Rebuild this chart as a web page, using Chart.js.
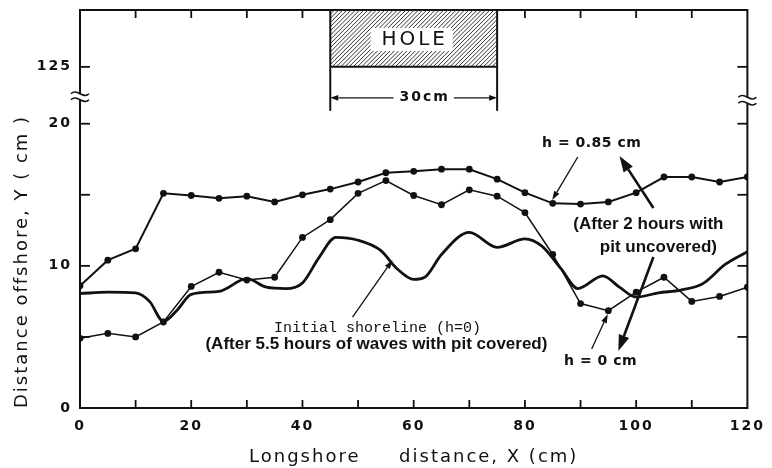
<!DOCTYPE html>
<html>
<head>
<meta charset="utf-8">
<script src="https://cdn.jsdelivr.net/npm/chart.js@4.4.1/dist/chart.umd.min.js"></script>
<style>
  html, body { margin: 0; padding: 0; background: #fff; }
</style>
</head>
<body>
<canvas id="perfil" width="772" height="468"></canvas>
<script>
// posiciones a lo largo de la costa (cm)
const posX = [0, 5, 10, 15, 20, 25, 30, 35, 40, 45, 50, 55, 60, 65, 70, 75, 80, 85, 90, 95, 100, 105, 110, 115, 120];
// h = 0.85 cm, 2 horas con el pozo descubierto
const lineaH085 = [8.6, 10.4, 11.2, 15.1, 14.95, 14.75, 14.9, 14.5, 15.0, 15.4, 15.9, 16.55, 16.65, 16.8, 16.8, 16.1, 15.15, 14.4, 14.35, 14.5, 15.15, 16.25, 16.25, 15.9, 16.25];
// h = 0 cm, mismas condiciones
const lineaH0 = [4.9, 5.25, 5.0, 6.05, 8.55, 9.55, 9.0, 9.2, 12.0, 13.25, 15.1, 16.0, 14.95, 14.3, 15.35, 14.9, 13.75, 10.8, 7.35, 6.85, 8.15, 9.2, 7.5, 7.85, 8.5];
// linea inicial (5.5 h de olas con el pozo cubierto), trazo continuo
const inicialX = [0, 5, 10, 12.5, 15, 17.5, 20, 25, 30, 33.5, 37, 40, 43, 46, 50, 54, 57, 60, 62, 65, 70, 75, 80, 83, 86.5, 89.5, 94, 97, 100, 104, 108, 112, 116, 120];
const inicialY = [8.05, 8.15, 8.1, 7.5, 6.1, 6.9, 8.0, 8.2, 9.1, 8.5, 8.4, 8.8, 10.6, 12.0, 11.8, 11.1, 9.8, 9.05, 9.2, 10.8, 12.35, 11.3, 11.9, 11.4, 9.8, 8.4, 9.3, 8.5, 7.8, 8.1, 8.3, 8.75, 10.1, 11.0];

const etiquetasX = [0, 20, 40, 60, 80, 100, 120];
const etiquetasY = [0, 10, 20, 125];
const marcasY = [5, 15];
const pozoDesde = 45, pozoHasta = 75;

// eje Y cortado: lo que pasa de 21.7 se corre 101 unidades (125 queda donde iria 24)
const corteY = 21.7, saltoY = 101;
const aEje = v => v > corteY ? v - saltoY : v;
const deEje = v => v > corteY ? v + saltoY : v;

const NEGRO = '#111';

function flecha(ctx, x0, y0, x1, y1, ancho, largo, medio) {
    const ang = Math.atan2(y1 - y0, x1 - x0);
    const bx = x1 - largo * Math.cos(ang), by = y1 - largo * Math.sin(ang);
    ctx.lineWidth = ancho;
    ctx.beginPath(); ctx.moveTo(x0, y0); ctx.lineTo(bx, by); ctx.stroke();
    ctx.beginPath();
    ctx.moveTo(x1, y1);
    ctx.lineTo(bx + medio * Math.sin(ang), by - medio * Math.cos(ang));
    ctx.lineTo(bx - medio * Math.sin(ang), by + medio * Math.cos(ang));
    ctx.closePath(); ctx.fill();
}

const textos = [
    { t: 'h = 0.85 cm', x: 92.0, y: 18.64, f: 'bold 14px "DejaVu Sans"', ls: '0.5px' },
    { t: '(After 2 hours with', x: 102.2, y: 12.94, f: 'bold 17px "Liberation Sans"', ls: '0px' },
    { t: 'pit uncovered)', x: 104.0, y: 11.33, f: 'bold 17px "Liberation Sans"', ls: '0px' },
    { t: 'h = 0 cm', x: 93.6, y: 3.31, f: 'bold 14px "DejaVu Sans"', ls: '0.5px' },
    { t: 'Initial shoreline (h=0)', x: 53.5, y: 5.63, f: '15px "Liberation Mono"', ls: '0px' },
    { t: '(After 5.5 hours of waves with pit covered)', x: 53.3, y: 4.5, f: 'bold 17px "Liberation Sans"', ls: '0px' }
];
// [x0, y0, x1, y1, gruesa]
const flechas = [
    [89.5, 17.66, 84.9, 14.63, false],
    [92.0, 4.15, 94.9, 6.61, false],
    [49.0, 6.40, 56.2, 10.41, false],
    [103.1, 14.07, 97.0, 17.73, true],
    [103.1, 10.62, 96.8, 4.01, true]
];

const decorado = {
    id: 'decorado',
    beforeDraw(chart) { chart.ctx.letterSpacing = '2px'; },
    afterDraw(chart) {
        const { ctx, chartArea: a, scales: { x, y } } = chart;
        ctx.save();
        ctx.strokeStyle = NEGRO; ctx.fillStyle = NEGRO;
        ctx.lineCap = 'butt';

        // marco
        ctx.lineWidth = 2;
        ctx.strokeRect(a.left, a.top, a.right - a.left, a.bottom - a.top);

        // marcas hacia adentro
        const raya = (x0, y0, x1, y1) => { ctx.beginPath(); ctx.moveTo(x0, y0); ctx.lineTo(x1, y1); ctx.stroke(); };
        ctx.lineWidth = 1.8;
        x.ticks.forEach(t => {
            if (t.value <= x.min || t.value >= x.max) return;
            const px = x.getPixelForValue(t.value);
            raya(px, a.bottom, px, a.bottom - 8);
            if (t.value < pozoDesde || t.value > pozoHasta) raya(px, a.top, px, a.top + 8);
        });
        y.ticks.forEach(t => {
            if (t.value <= y.min) return;
            const py = y.getPixelForValue(t.value);
            raya(a.left, py, a.left + 10, py);
            raya(a.right, py, a.right - 10, py);
        });

        // corte del eje
        const corte = (px, py) => {
            ctx.fillStyle = '#fff';
            ctx.fillRect(px - 3, py - 3, 6, 6);
            ctx.lineWidth = 1.6;
            [-3, 3].forEach(d => {
                ctx.beginPath();
                ctx.moveTo(px - 9, py + d);
                ctx.bezierCurveTo(px - 3, py + d - 6, px + 3, py + d + 6, px + 9, py + d);
                ctx.stroke();
            });
            ctx.fillStyle = NEGRO;
        };
        corte(a.left, y.getPixelForValue(21.9));
        corte(a.right, y.getPixelForValue(21.65));

        // pozo rayado
        const hx0 = x.getPixelForValue(pozoDesde), hx1 = x.getPixelForValue(pozoHasta);
        const hy1 = y.getPixelForValue(aEje(125));
        ctx.save();
        ctx.beginPath(); ctx.rect(hx0, a.top, hx1 - hx0, hy1 - a.top); ctx.clip();
        ctx.strokeStyle = '#333'; ctx.lineWidth = 1;
        const alto = hy1 - a.top;
        for (let k = hx0 - alto; k < hx1 + 5; k += 4.2) {
            ctx.beginPath(); ctx.moveTo(k, hy1); ctx.lineTo(k + alto, a.top); ctx.stroke();
        }
        ctx.restore();
        const cx = (hx0 + hx1) / 2;
        ctx.fillStyle = '#fff';
        ctx.fillRect(cx - 43, a.top + 18, 82, 23);
        ctx.fillStyle = NEGRO;
        ctx.lineWidth = 2;
        raya(hx0, a.top, hx0, hy1 + 44);
        raya(hx1, a.top, hx1, hy1 + 44);
        raya(hx0, hy1, hx1, hy1);
        ctx.letterSpacing = '3px';
        ctx.font = '20px "DejaVu Sans"';
        ctx.textAlign = 'center'; ctx.textBaseline = 'middle';
        ctx.fillText('HOLE', cx + 1, a.top + 30);

        // cota del ancho del pozo
        const dy = hy1 + 31;
        ctx.letterSpacing = '2px';
        ctx.font = 'bold 14px "DejaVu Sans"';
        const cota = (pozoHasta - pozoDesde) + 'cm';
        const tc = cx + 10;
        const wt = ctx.measureText(cota).width;
        ctx.fillText(cota, tc + 1, dy);
        flecha(ctx, tc - wt / 2 - 5, dy, hx0, dy, 1.3, 8, 2.8);
        flecha(ctx, tc + wt / 2 + 5, dy, hx1, dy, 1.3, 8, 2.8);

        // rotulos y flechas
        textos.forEach(n => {
            ctx.font = n.f;
            ctx.letterSpacing = n.ls;
            ctx.fillText(n.t, x.getPixelForValue(n.x), y.getPixelForValue(n.y));
        });
        flechas.forEach(([x0, y0, x1, y1, gruesa]) => {
            flecha(ctx, x.getPixelForValue(x0), y.getPixelForValue(y0), x.getPixelForValue(x1), y.getPixelForValue(y1),
                gruesa ? 2.6 : 1.3, gruesa ? 16 : 9, gruesa ? 5.5 : 3);
        });
        ctx.restore();
    }
};

const fuenteTicks = { family: 'DejaVu Sans', weight: 'bold', size: 14 };
const fuenteTitulo = { family: 'DejaVu Sans', size: 18 };

new Chart(document.getElementById('perfil'), {
    type: 'line',
    data: {
        datasets: [
            {
                label: 'h = 0.85 cm',
                data: posX.map((v, i) => ({ x: v, y: lineaH085[i] })),
                borderColor: NEGRO, backgroundColor: NEGRO,
                borderWidth: 2, pointRadius: 3.4, pointBorderWidth: 0, tension: 0
            },
            {
                label: 'h = 0 cm',
                data: posX.map((v, i) => ({ x: v, y: lineaH0[i] })),
                borderColor: NEGRO, backgroundColor: NEGRO,
                borderWidth: 1.5, pointRadius: 3.4, pointBorderWidth: 0, tension: 0
            },
            {
                label: 'Initial shoreline (h=0)',
                data: inicialX.map((v, i) => ({ x: v, y: inicialY[i] })),
                borderColor: NEGRO, borderWidth: 2.8, pointRadius: 0,
                cubicInterpolationMode: 'monotone'
            }
        ]
    },
    options: {
        responsive: false,
        animation: false,
        layout: { padding: { top: 10, right: 19, left: 0, bottom: 0 } },
        plugins: { legend: { display: false }, tooltip: { enabled: false } },
        scales: {
            x: {
                type: 'linear', min: 0, max: 120,
                afterFit: s => { s.height = 60; },
                ticks: {
                    stepSize: 10, autoSkip: false, maxRotation: 0, padding: 10,
                    color: NEGRO, font: fuenteTicks,
                    callback: v => etiquetasX.includes(v) ? String(v) : ''
                },
                grid: { display: false, drawTicks: false }, border: { display: false },
                title: {
                    display: true, text: 'Longshore     distance, X (cm)', color: NEGRO,
                    font: fuenteTitulo, padding: { top: 2, bottom: 0 }
                }
            },
            y: {
                type: 'linear', min: 0, max: 28,
                afterFit: s => { s.width = 80; s.paddingTop = 0; s.paddingBottom = 0; },
                afterBuildTicks: s => {
                    s.ticks = [...marcasY, ...etiquetasY].map(aEje).sort((p, q) => p - q).map(v => ({ value: v }));
                },
                ticks: {
                    autoSkip: false, padding: 8, color: NEGRO, font: fuenteTicks,
                    callback: v => etiquetasY.includes(deEje(v)) ? String(deEje(v)) : ''
                },
                grid: { display: false, drawTicks: false }, border: { display: false },
                title: {
                    display: true, text: 'Distance offshore, Y ( cm )', color: NEGRO, align: 'start',
                    font: fuenteTitulo, padding: { top: 12, bottom: 0 }
                }
            }
        }
    },
    plugins: [decorado]
});
</script>
</body>
</html>
